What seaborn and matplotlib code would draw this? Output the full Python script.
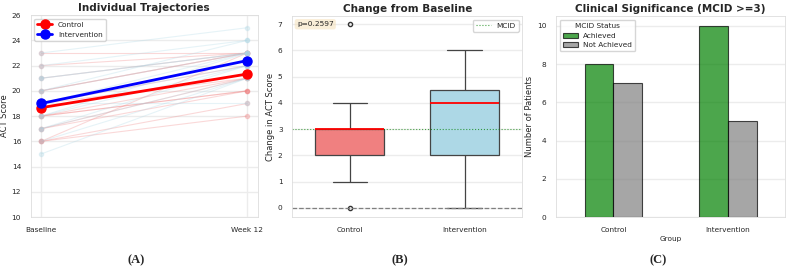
import numpy as np
import pandas as pd
import matplotlib
matplotlib.use("Agg")
import matplotlib.pyplot as plt
import seaborn as sns

# Données
groups = ["Control", "Intervention"]
timepoints = ["Baseline", "Week 12"]
control_baseline = [16, 16, 16, 17, 17, 18, 18, 18, 19, 19, 20, 20, 21, 22, 23]
control_change = [7, 2, 3, 3, 4, 2, 3, 2, 3, 2, 3, 3, 2, 1, 0]
interv_baseline = [15, 16, 17, 17, 18, 18, 19, 19, 19, 20, 20, 21, 21, 22, 23]
interv_change = [6, 5, 5, 4, 5, 4, 0, 4, 3, 4, 3, 2, 2, 2, 2]
mcid = 3
p_value = 0.2597
mcid_status = ["Achieved", "Not Achieved"]

ctrl_b = np.array(control_baseline)
ctrl_w = ctrl_b + np.array(control_change)
int_b = np.array(interv_baseline)
int_w = int_b + np.array(interv_change)

df_change = pd.DataFrame({
    "Group": ["Control"] * len(control_change) + ["Intervention"] * len(interv_change),
    "Change": control_change + interv_change,
})
df_change["Status"] = np.where(df_change["Change"] >= mcid, "Achieved", "Not Achieved")
counts = df_change.groupby(["Group", "Status"]).size().reset_index(name="n")

sns.set_theme(style="whitegrid")
plt.rcParams["font.family"] = ["DejaVu Sans"]
plt.rcParams["grid.color"] = "#ececec"
plt.rcParams["axes.edgecolor"] = "#dddddd"

fig = plt.figure(figsize=(7.9, 2.7), dpi=100)
ax1 = fig.add_axes([0.039, 0.196, 0.287, 0.748])
ax2 = fig.add_axes([0.370, 0.196, 0.291, 0.744])
ax3 = fig.add_axes([0.704, 0.196, 0.290, 0.744])

tick_fs = 5.3
lab_fs = 6
title_fs = 7.5

# (A) trajectoires individuelles
for b, w in zip(ctrl_b, ctrl_w):
    ax1.plot([0, 1], [b, w], color="lightcoral", alpha=0.3, marker="o", markersize=3, linewidth=0.8)
for b, w in zip(int_b, int_w):
    ax1.plot([0, 1], [b, w], color="lightblue", alpha=0.3, marker="o", markersize=3, linewidth=0.8)
ax1.plot([0, 1], [ctrl_b.mean(), ctrl_w.mean()], color="red", marker="o", markersize=6.5, linewidth=2, label="Control")
ax1.plot([0, 1], [int_b.mean(), int_w.mean()], color="blue", marker="o", markersize=6.5, linewidth=2, label="Intervention")
ax1.set_xticks([0, 1])
ax1.set_xticklabels(timepoints)
ax1.set_xlim(-0.05, 1.05)
ax1.set_ylim(10, 26)
ax1.set_ylabel("ACT Score", fontsize=lab_fs)
ax1.yaxis.set_label_coords(-0.095, 0.5)
ax1.set_title("Individual Trajectories", fontsize=title_fs, fontweight="bold", pad=3)
ax1.legend(loc="upper left", fontsize=5.3)

# (B) changement
sns.boxplot(data=df_change, x="Group", y="Change", hue="Group", order=groups,
            palette={"Control": "lightcoral", "Intervention": "lightblue"},
            saturation=1, width=0.6, linewidth=0.9, linecolor="#444444", dodge=False,
            medianprops={"color": "red", "linewidth": 1.3},
            flierprops={"marker": "o", "markersize": 3, "markerfacecolor": "none",
                        "markeredgecolor": "#333333"},
            ax=ax2, legend=False)
ax2.axhline(mcid, color="green", linestyle=":", linewidth=0.8, alpha=0.7, label="MCID")
ax2.axhline(0, color="gray", linestyle="--", linewidth=0.9)
ax2.set_ylim(-0.35, 7.3)
ax2.set_xlabel("")
ax2.set_ylabel("Change in ACT Score", fontsize=lab_fs, labelpad=2)
ax2.set_title("Change from Baseline", fontsize=title_fs, fontweight="bold", pad=3)
ax2.legend(loc="upper right", fontsize=5.3)
ax2.text(0.02, 0.975, f"p={p_value:.4f}", transform=ax2.transAxes, fontsize=5.3,
         va="top", ha="left", bbox=dict(boxstyle="round,pad=0.3", facecolor="wheat", alpha=0.5, edgecolor="none"))

# (C) significativité clinique
sns.barplot(data=counts, x="Group", y="n", hue="Status", order=groups, hue_order=mcid_status,
            palette={"Achieved": "green", "Not Achieved": "gray"}, saturation=1, alpha=0.7,
            edgecolor="black", linewidth=0.8, width=0.5, ax=ax3)
ax3.set_xlabel("Group", fontsize=5.3, labelpad=2)
ax3.set_ylabel("Number of Patients", fontsize=lab_fs, labelpad=2)
ax3.set_title("Clinical Significance (MCID >=3)", fontsize=title_fs, fontweight="bold", pad=3)
ax3.set_ylim(0, 10.5)
ax3.legend(title="MCID Status", loc="upper left", fontsize=5.3, title_fontsize=5.3)

for ax in (ax1, ax2, ax3):
    ax.tick_params(labelsize=tick_fs, pad=1)
    for s in ax.spines.values():
        s.set_linewidth(0.6)

for x, lab in [(136 / 790, "(A)"), (400 / 790, "(B)"), (658 / 790, "(C)")]:
    fig.text(x, 0.035, lab, ha="center", va="center", fontsize=9,
             family="Liberation Serif", fontweight="bold")

fig.savefig("out.png", dpi=100)
